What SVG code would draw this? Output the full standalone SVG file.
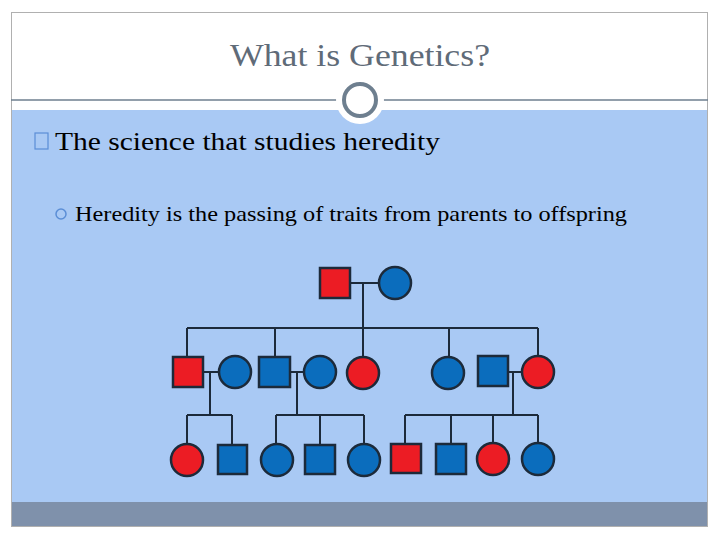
<svg xmlns="http://www.w3.org/2000/svg" width="720" height="540" viewBox="0 0 720 540">
<style>
.r{fill:#ec1c24;stroke:#1c2a3a;stroke-width:2.5}
.b{fill:#0b6dbd;stroke:#1c2a3a;stroke-width:2.5}
.l{stroke:#1c2a3a;stroke-width:2;fill:none}
</style>
<rect width="720" height="540" fill="#fff"/>
<rect x="11" y="110" width="697" height="392" fill="#a9c9f4"/>
<rect x="11" y="502" width="697" height="25" fill="#7f91ab"/>
<rect x="11.5" y="12.5" width="696" height="514" fill="none" stroke="#b0b0b0"/>
<line x1="11" y1="100" x2="708" y2="100" stroke="#6e7f8f" stroke-width="1.5"/>
<circle cx="360" cy="100" r="24" fill="#fff"/>
<circle cx="360" cy="100" r="16" fill="#fff" stroke="#6e7f8f" stroke-width="4"/>
<text x="230" y="66" textLength="260" lengthAdjust="spacingAndGlyphs" font-family="Liberation Serif, serif" font-size="31" fill="#5f6b78">What is Genetics?</text>
<rect x="35" y="133" width="13" height="16" fill="none" stroke="#5b8ed6" stroke-width="1.2"/>
<text x="55" y="150" textLength="385" lengthAdjust="spacingAndGlyphs" font-family="Liberation Serif, serif" font-size="26" fill="#000">The science that studies heredity</text>
<circle cx="61" cy="214" r="5" fill="none" stroke="#5b8ed6" stroke-width="1.5"/>
<text x="75" y="221" textLength="552" lengthAdjust="spacingAndGlyphs" font-family="Liberation Serif, serif" font-size="21" fill="#000">Heredity is the passing of traits from parents to offspring</text>
<g id="connectors" class="l">
<path d="M350 283H379M363 283V328M187 328H538M187 328V357M275 328V357M363 328V356M449 328V356M538 328V356"/>
<path d="M203 372H219M210 372V415M187 415H232M187 415V444M232 415V445"/>
<path d="M290 372H304M297 372V415M276 415H364M276 415V444M320 415V445M364 415V444"/>
<path d="M508 372H522M513 372V415M405 415H538M405 415V445M451 415V445M493 415V444M538 415V444"/>
</g>
<g id="g1a"><rect class="r" x="320" y="268" width="30" height="30"/></g>
<g id="g1b"><circle class="b" cx="395" cy="283" r="16"/></g>
<g id="g2a"><rect class="r" x="173" y="357" width="30" height="30"/></g>
<g id="g2b"><circle class="b" cx="235" cy="372" r="16"/></g>
<g id="g2c"><rect class="b" x="259" y="357" width="31" height="30"/></g>
<g id="g2d"><circle class="b" cx="320" cy="372" r="16"/></g>
<g id="g2e"><circle class="r" cx="363" cy="373" r="16"/></g>
<g id="g2f"><circle class="b" cx="448" cy="373" r="16"/></g>
<g id="g2g"><rect class="b" x="478" y="356" width="30" height="30"/></g>
<g id="g2h"><circle class="r" cx="538" cy="372" r="16"/></g>
<g id="g3a"><circle class="r" cx="187" cy="460" r="16"/></g>
<g id="g3b"><rect class="b" x="218" y="445" width="29" height="29"/></g>
<g id="g3c"><circle class="b" cx="277" cy="460" r="16"/></g>
<g id="g3d"><rect class="b" x="305" y="445" width="30" height="29"/></g>
<g id="g3e"><circle class="b" cx="364" cy="460" r="16"/></g>
<g id="g3f"><rect class="r" x="391" y="444" width="30" height="29"/></g>
<g id="g3g"><rect class="b" x="436" y="444" width="30" height="30"/></g>
<g id="g3h"><circle class="r" cx="493" cy="459" r="16"/></g>
<g id="g3i"><circle class="b" cx="538" cy="459" r="16"/></g>
</svg>
